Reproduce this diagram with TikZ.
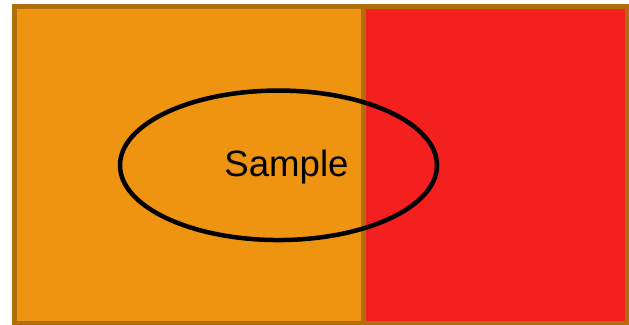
\documentclass[tikz,border=0pt]{standalone}
\usepackage{fontspec}
\setmainfont{Liberation Sans}
\usetikzlibrary{shapes.geometric}
\definecolor{orangefill}{HTML}{EF9411}
\definecolor{redfill}{HTML}{F41F1F}
\definecolor{boxborder}{HTML}{B06E0C}
\begin{document}
\begin{tikzpicture}[x=1pt,y=1pt,
  panel/.style={draw=boxborder,line width=5pt},
  blob/.style={draw=black,line width=4.5pt}]
\useasboundingbox (0,0) rectangle (629,324);
\begin{scope}
\clip (0,0) rectangle (629,324);
\draw[panel,fill=orangefill] (14.5,317.5) rectangle (363,0.5);
\draw[panel,fill=redfill] (363,317.5) rectangle (627.5,0.5);
\end{scope}
\node[blob,ellipse,minimum width=317pt,minimum height=149.5pt,inner sep=0pt] (e) at (278.5,158.7) {};
\node[anchor=base,inner sep=0pt,font=\fontsize{36.6}{40}\selectfont] (t) at (286.5,147) {Sample};
\end{tikzpicture}
\end{document}
